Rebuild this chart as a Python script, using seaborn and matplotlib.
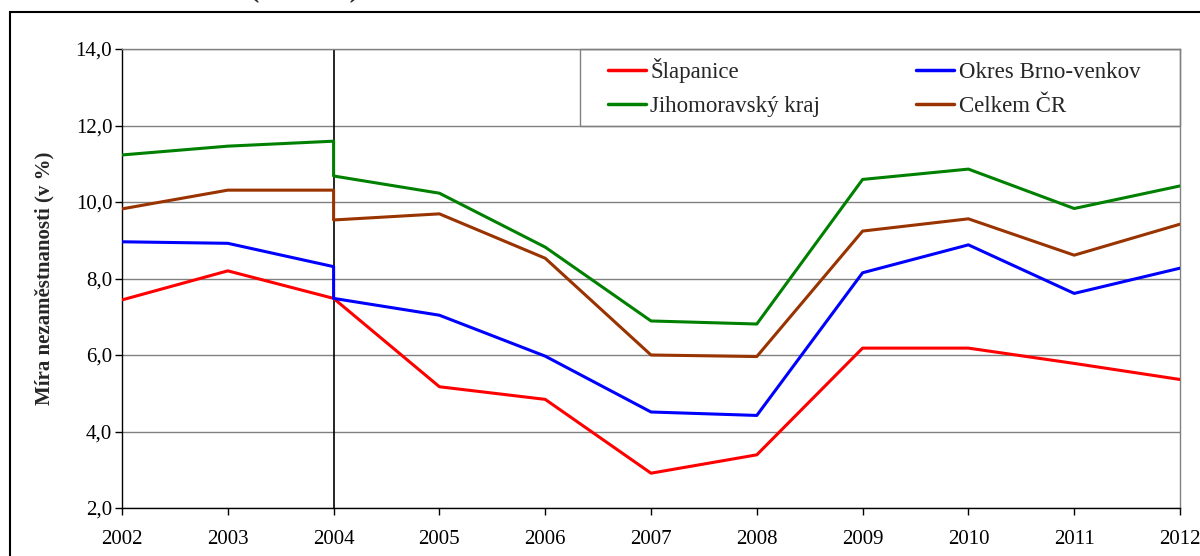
import numpy as np
import pandas as pd
import matplotlib.pyplot as plt
import seaborn as sns
from matplotlib.lines import Line2D
from matplotlib.patches import Rectangle
from matplotlib.ticker import FuncFormatter

# 2004 appears twice: break in the data series (old / new method)
years = [2002, 2003, 2004, 2004, 2005, 2006, 2007, 2008, 2009, 2010, 2011, 2012]
slapanice = [7.44, 8.20, 7.48, 7.48, 5.17, 4.84, 2.91, 3.39, 6.18, 6.18, 5.78, 5.36]
brno_venkov = [8.96, 8.92, 8.31, 7.48, 7.04, 5.97, 4.51, 4.42, 8.15, 8.88, 7.61, 8.27]
jihomoravsky = [11.23, 11.46, 11.59, 10.68, 10.23, 8.82, 6.89, 6.81, 10.59, 10.86, 9.83, 10.42]
celkem_cr = [9.82, 10.31, 10.31, 9.53, 9.69, 8.53, 6.00, 5.96, 9.24, 9.56, 8.61, 9.42]

series_names = ["Šlapanice", "Okres Brno-venkov", "Jihomoravský kraj", "Celkem ČR"]
series_values = [slapanice, brno_venkov, jihomoravsky, celkem_cr]
colors = ["#ff0000", "#0000ff", "#008000", "#993300"]
tick_years = list(range(2002, 2013))

rows = []
for name, vals in zip(series_names, series_values):
    for i, (y, v) in enumerate(zip(years, vals)):
        rows.append({"rok": y, "hodnota": v, "rada": name, "poradi": i})
df = pd.DataFrame(rows)

sns.set_theme(style="white")
plt.rcParams['font.family'] = ['Liberation Serif', 'DejaVu Serif']

fig = plt.figure(figsize=(12, 5.56), dpi=100)
ax = fig.add_axes([122 / 1200, 1 - 508 / 556, 1058 / 1200, 459 / 556])

sns.lineplot(data=df, x="rok", y="hodnota", hue="rada", palette=colors,
             hue_order=series_names, estimator=None, sort=False,
             linewidth=2.2, ax=ax, legend=False, zorder=3)

ax.set_xlim(2002, 2012)
ax.set_ylim(2, 14)
ax.set_xticks(tick_years)
ax.set_xticklabels([str(y) for y in tick_years])
ax.set_yticks(np.arange(2, 15, 2))
ax.yaxis.set_major_formatter(FuncFormatter(lambda v, p: f"{v:.1f}".replace(".", ",")))
ax.yaxis.grid(True, color="#808080", linewidth=1)
ax.xaxis.grid(False)
ax.axvline(2004, color="black", linewidth=1.2, zorder=2)

for s in ["top", "right"]:
    ax.spines[s].set_color("#808080")
    ax.spines[s].set_linewidth(1)
for s in ["left", "bottom"]:
    ax.spines[s].set_color("black")
    ax.spines[s].set_linewidth(1)

ax.tick_params(axis="both", which="major", direction="out", length=5, width=1,
               color="black", labelsize=15, colors="black")
ax.tick_params(axis="x", pad=11, bottom=True)
ax.tick_params(axis="y", pad=2, left=True)
ax.set_xlabel("")
ax.set_ylabel("Míra nezaměstnanosti (v %)", fontsize=15, fontweight="bold", labelpad=15)

# row-wise order in the legend: matplotlib fills columns first
order = [0, 2, 1, 3]
handles = [Line2D([0], [0], color=colors[i], linewidth=2.5) for i in order]
labels = [series_names[i] for i in order]
leg = ax.legend(handles, labels, ncol=2, loc="center",
                bbox_to_anchor=(481 / 1058, 10 / 12, 542 / 1058, 2 / 12),
                mode="expand", frameon=False, fontsize=16.5,
                handlelength=1.66, handletextpad=0.2, borderaxespad=0,
                labelspacing=0.55, borderpad=0.2)
# legend border spans the full box of the original chart
ax.add_patch(Rectangle((458 / 1058, 10 / 12), 600 / 1058, 2 / 12,
                       transform=ax.transAxes, fill=False, edgecolor="#808080",
                       linewidth=1, zorder=4, clip_on=False))

# outer chart frame and cut-off title
fig.add_artist(Rectangle((10 / 1200, -0.05), 1.2, 1 - 12 / 556 + 0.05,
                         transform=fig.transFigure, fill=False,
                         edgecolor="black", linewidth=1.5))
fig.text(305 / 1200, 1.016, "(v letech)", fontsize=20, fontweight="bold",
         ha="center", va="center")

fig.savefig("out.png", dpi=100)
